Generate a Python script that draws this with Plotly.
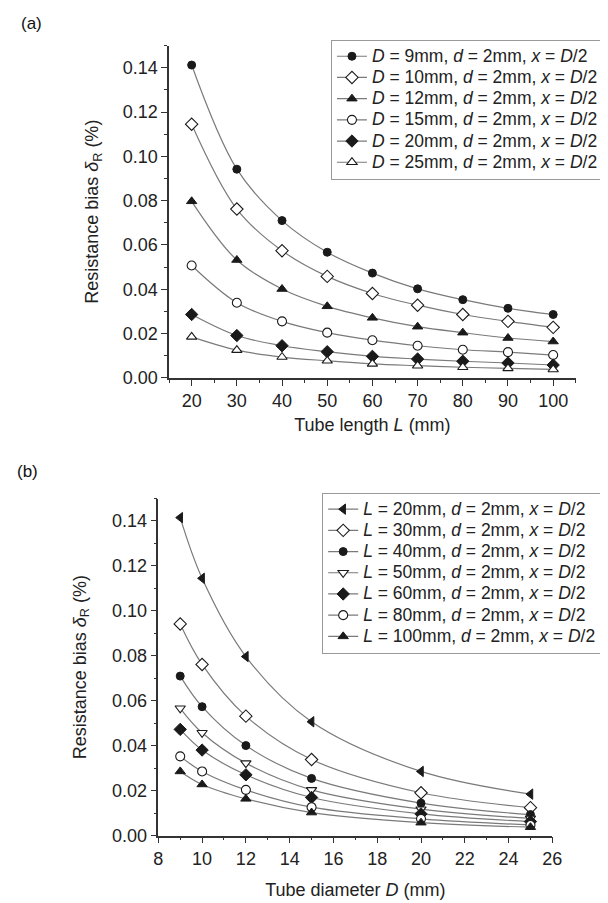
import plotly.graph_objects as go

# ---------------- Data ----------------
# Panel (a): resistance bias vs tube length L for several diameters D
L_vals = [20, 30, 40, 50, 60, 70, 80, 90, 100]
a_D9 = [0.1412, 0.0942, 0.0710, 0.0567, 0.0473, 0.0402, 0.0353, 0.0314, 0.0286]
a_D10 = [0.1145, 0.0762, 0.0574, 0.0458, 0.0381, 0.0328, 0.0286, 0.0255, 0.0228]
a_D12 = [0.0797, 0.0532, 0.0401, 0.0323, 0.0271, 0.0231, 0.0204, 0.0180, 0.0164]
a_D15 = [0.0507, 0.0339, 0.0255, 0.0204, 0.0170, 0.0145, 0.0127, 0.0116, 0.0103]
a_D20 = [0.0286, 0.0191, 0.0145, 0.0118, 0.0097, 0.0085, 0.0075, 0.0067, 0.0058]
a_D25 = [0.0185, 0.0125, 0.0094, 0.0077, 0.0063, 0.0055, 0.0048, 0.0043, 0.0038]
a_series = [a_D9, a_D10, a_D12, a_D15, a_D20, a_D25]
a_labels = ["9", "10", "12", "15", "20", "25"]

# Panel (b): resistance bias vs tube diameter D for several lengths L
D_vals = [9, 10, 12, 15, 20, 25]
b_L20 = [0.1415, 0.1145, 0.0797, 0.0507, 0.0286, 0.0185]
b_L30 = [0.0942, 0.0762, 0.0532, 0.0339, 0.0191, 0.0125]
b_L40 = [0.0710, 0.0574, 0.0401, 0.0255, 0.0145, 0.0094]
b_L50 = [0.0567, 0.0458, 0.0323, 0.0204, 0.0118, 0.0077]
b_L60 = [0.0473, 0.0381, 0.0271, 0.0170, 0.0097, 0.0063]
b_L80 = [0.0353, 0.0286, 0.0204, 0.0127, 0.0075, 0.0048]
b_L100 = [0.0286, 0.0228, 0.0164, 0.0103, 0.0058, 0.0038]
b_series = [b_L20, b_L30, b_L40, b_L50, b_L60, b_L80, b_L100]
b_labels = ["20", "30", "40", "50", "60", "80", "100"]

y_ticks = [0.00, 0.02, 0.04, 0.06, 0.08, 0.10, 0.12, 0.14]

# ---------------- Styles ----------------
FONT = "Liberation Sans, Arial, sans-serif"
LINE_COLOR = "#7a7a7a"
EDGE = "#1a1a1a"

a_markers = [("circle", True, 8), ("diamond", False, 9.5), ("triangle-up", True, 9),
             ("circle", False, 9), ("diamond", True, 9.5), ("triangle-up", False, 9)]
b_markers = [("triangle-left", True, 9), ("diamond", False, 9.5), ("circle", True, 8),
             ("triangle-down", False, 9), ("diamond", True, 9.5), ("circle", False, 9),
             ("triangle-up", True, 9)]


def legend_text(s):
    return f'<span style="font-size:17.5px">{s}</span>'


fig = go.Figure()

for ys, lab, (sym, filled, sz) in zip(a_series, a_labels, a_markers):
    fig.add_trace(go.Scatter(
        x=L_vals, y=ys, mode="lines+markers",
        name=legend_text(f"<i>D</i> = {lab}mm, <i>d</i> = 2mm, <i>x</i> = <i>D</i>/2"),
        line=dict(color=LINE_COLOR, width=1.2, shape="spline"),
        marker=dict(symbol=sym, size=sz, color=EDGE if filled else "white",
                    line=dict(color=EDGE, width=1 if filled else 1.1)),
        xaxis="x", yaxis="y", legend="legend",
    ))

for ys, lab, (sym, filled, sz) in zip(b_series, b_labels, b_markers):
    fig.add_trace(go.Scatter(
        x=D_vals, y=ys, mode="lines+markers",
        name=legend_text(f"<i>L</i> = {lab}mm, <i>d</i> = 2mm, <i>x</i> = <i>D</i>/2"),
        line=dict(color=LINE_COLOR, width=1.2, shape="spline"),
        marker=dict(symbol=sym, size=sz, color=EDGE if filled else "white",
                    line=dict(color=EDGE, width=1 if filled else 1.1)),
        xaxis="x2", yaxis="y2", legend="legend2",
    ))

W, H = 608, 903
axis_common = dict(
    showline=True, linecolor="#333333", linewidth=1.5,
    ticks="outside", ticklen=6, tickwidth=1.3, tickcolor="#333333",
    showgrid=False, zeroline=False, mirror=False,
    tickfont=dict(family=FONT, size=18, color="#222222"),
)

ytitle = "Resistance bias <i>δ</i><sub>R</sub> (%)"

fig.update_layout(
    width=W, height=H,
    margin=dict(l=0, r=0, t=0, b=0),
    paper_bgcolor="white", plot_bgcolor="white",
    font=dict(family=FONT, color="#222222"),
    xaxis=dict(**axis_common, domain=[160 / W, 577 / W], range=[15, 105],
               tickvals=L_vals, anchor="y",
               minor=dict(ticks="outside", ticklen=3, dtick=5, tick0=0,
                          tickcolor="#333333", tickwidth=1.2),
               title=dict(text="Tube length <i>L</i> (mm)",
                          font=dict(family=FONT, size=18), standoff=8)),
    yaxis=dict(**axis_common, domain=[1 - 374 / H, 1 - 38 / H], range=[0, 0.15],
               tickvals=y_ticks, tickformat=".2f", anchor="x",
               minor=dict(ticks="outside", ticklen=3, dtick=0.01, tick0=0,
                          tickcolor="#333333", tickwidth=1.2),
               title=dict(text=ytitle, font=dict(family=FONT, size=18), standoff=19)),
    xaxis2=dict(**axis_common, domain=[149 / W, 553 / W], range=[8, 26],
                dtick=2, tick0=8, anchor="y2",
                minor=dict(ticks="outside", ticklen=3, dtick=1, tick0=0,
                           tickcolor="#333333", tickwidth=1.2),
                title=dict(text="Tube diameter <i>D</i> (mm)",
                           font=dict(family=FONT, size=18), standoff=15)),
    yaxis2=dict(**axis_common, domain=[1 - 837 / H, 1 - 496 / H], range=[0, 0.15],
                tickvals=y_ticks, tickformat=".2f", anchor="x2",
                minor=dict(ticks="outside", ticklen=3, dtick=0.01, tick0=0,
                           tickcolor="#333333", tickwidth=1.2),
                title=dict(text=ytitle, font=dict(family=FONT, size=18), standoff=21)),
    legend=dict(x=326 / W, y=1 - 32 / H, xanchor="left", yanchor="top",
                bordercolor="#999999", borderwidth=1, bgcolor="white",
                font=dict(family=FONT, size=14, color="#222222"),
                tracegroupgap=0, itemwidth=30),
    legend2=dict(x=317 / W, y=1 - 490 / H, xanchor="left", yanchor="top",
                 bordercolor="#999999", borderwidth=1, bgcolor="white",
                 font=dict(family=FONT, size=14, color="#222222"),
                 tracegroupgap=0, itemwidth=30),
    annotations=[
        dict(text="(a)", x=6 / W, y=1 - 16 / H, xref="paper", yref="paper",
             xanchor="left", yanchor="middle", showarrow=False,
             font=dict(family="Liberation Sans, Arial", size=17, color="#111111")),
        dict(text="(b)", x=2 / W, y=1 - 469 / H, xref="paper", yref="paper",
             xanchor="left", yanchor="middle", showarrow=False,
             font=dict(family="Liberation Sans, Arial", size=17, color="#111111")),
    ],
)

fig.write_html("out.html")
